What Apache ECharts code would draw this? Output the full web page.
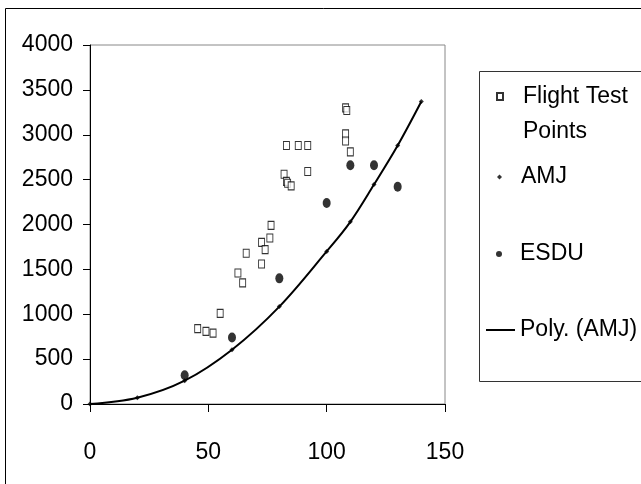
<!DOCTYPE html>
<html>
<head>
<meta charset="utf-8">
<script src="https://cdn.jsdelivr.net/npm/echarts@6/dist/echarts.min.js"></script>
<style>
html,body{margin:0;padding:0;background:#fff;}
#c{width:641px;height:484px;}
</style>
</head>
<body>
<div id="c"></div>
<script>
// Flight test points (x, y)
var flightX = [108, 108.5, 108, 108, 110, 83, 88, 92, 92, 82, 83, 83.5, 85, 76.5, 76, 72.5, 74, 66, 72.5, 62.5, 64.5, 55, 45.5, 49, 52];
var flightY = [3300, 3270, 3010, 2930, 2810, 2880, 2880, 2880, 2590, 2560, 2480, 2460, 2430, 1990, 1850, 1800, 1720, 1680, 1560, 1460, 1350, 1010, 840, 810, 790];
// AMJ
var amjX = [0, 20, 40, 60, 80, 100, 110, 120, 130, 140];
var amjY = [0, 70, 260, 605, 1085, 1700, 2030, 2445, 2880, 3370];
// ESDU
var esduX = [40, 60, 80, 100, 110, 120, 130];
var esduY = [320, 740, 1400, 2240, 2660, 2660, 2420];
// axis ticks
var xTicks = [0, 50, 100, 150];
var yTicks = [0, 500, 1000, 1500, 2000, 2500, 3000, 3500, 4000];

function pairs(xs, ys) { return xs.map(function (x, i) { return [x, ys[i]]; }); }

var FONT = "'Liberation Sans', Arial, sans-serif";
var chart = echarts.init(document.getElementById('c'), null, {renderer: 'canvas'});

var legendText = {color: '#000', fontSize: 23, fontFamily: FONT, lineHeight: 30};

chart.setOption({
  animation: false,
  backgroundColor: '#fff',
  graphic: [
    {type: 'rect', shape: {x: 5.5, y: 8.5, width: 700, height: 520}, style: {fill: null, stroke: '#000', lineWidth: 1}, z: 0},
    {type: 'rect', shape: {x: 479.5, y: 71.5, width: 200, height: 310}, style: {fill: null, stroke: '#333', lineWidth: 1}, z: 0}
  ],
  grid: {left: 90, top: 45, right: 196, bottom: 80, show: true, borderColor: '#888', borderWidth: 1, containLabel: false},
  xAxis: {
    type: 'value', min: xTicks[0], max: xTicks[xTicks.length - 1], interval: 50,
    axisLine: {show: true, onZero: false, lineStyle: {color: '#000', width: 1}},
    axisTick: {show: true, inside: false, length: 8, lineStyle: {color: '#000'}},
    axisLabel: {color: '#000', fontSize: 23, fontFamily: FONT, margin: 37, formatter: function (v) { return String(v); }},
    splitLine: {show: false}
  },
  yAxis: {
    type: 'value', min: yTicks[0], max: yTicks[yTicks.length - 1], interval: 500,
    axisLine: {show: true, onZero: false, lineStyle: {color: '#000', width: 1}},
    axisTick: {show: true, inside: false, length: 7, lineStyle: {color: '#000'}},
    axisLabel: {color: '#000', fontSize: 23, fontFamily: FONT, margin: 17, formatter: function (v) { return String(v); }},
    splitLine: {show: false}
  },
  legend: [
    {
      data: [{name: 'Flight Test Points', icon: 'rect'}], orient: 'vertical', left: 496, top: 44, padding: 0,
      itemWidth: 6, itemHeight: 7,
      formatter: function () { return ' \nFlight Test\nPoints'; },
      textStyle: {color: '#000', fontSize: 23, fontFamily: FONT, lineHeight: 35, padding: [0, 0, 0, 15]}
    },
    {
      data: [{name: 'AMJ', icon: 'diamond'}], left: 497, top: 162, padding: 0,
      itemWidth: 5, itemHeight: 5,
      textStyle: Object.assign({}, legendText, {padding: [0, 0, 0, 14]})
    },
    {
      data: [{name: 'ESDU', icon: 'circle'}], left: 496, top: 239, padding: 0,
      itemWidth: 6, itemHeight: 9, symbolKeepAspect: false,
      textStyle: Object.assign({}, legendText, {padding: [0, 0, 0, 13]})
    },
    {
      data: [{name: 'Poly. (AMJ)', icon: 'rect'}], left: 486, top: 315, padding: 0,
      itemWidth: 29, itemHeight: 2,
      textStyle: legendText
    }
  ],
  series: [
    {
      name: 'Poly. (AMJ)', type: 'line', data: pairs(amjX, amjY), smooth: 0.35, symbol: 'none',
      lineStyle: {color: '#000', width: 2}, itemStyle: {color: '#000'}, z: 2
    },
    {
      name: 'Flight Test Points', type: 'scatter', data: pairs(flightX, flightY), symbol: 'rect', symbolSize: [6, 8],
      itemStyle: {color: '#fff', borderColor: '#000', borderWidth: 1}, z: 3
    },
    {
      name: 'AMJ', type: 'scatter', data: pairs(amjX, amjY), symbol: 'diamond', symbolSize: 5,
      itemStyle: {color: '#000'}, z: 4
    },
    {
      name: 'ESDU', type: 'scatter', data: pairs(esduX, esduY), symbol: 'circle', symbolSize: [8, 10],
      itemStyle: {color: '#000'}, z: 4
    }
  ]
});
</script>
</body>
</html>
